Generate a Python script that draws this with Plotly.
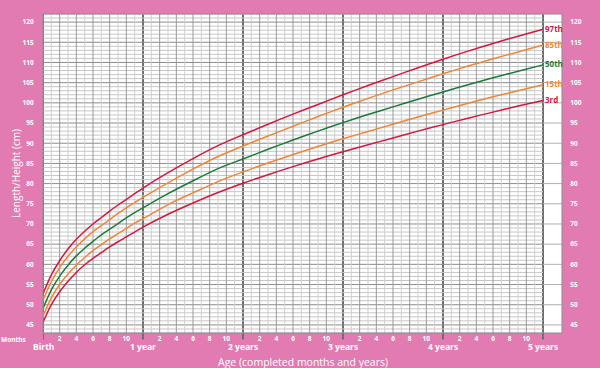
import plotly.graph_objects as go

# ---- data (WHO length/height-for-age, girls) ----
months = [0, 1, 2, 3, 4, 5, 6, 7, 8, 9, 10, 11, 12, 15, 18, 21, 24, 27, 30, 33, 36,
          39, 42, 45, 48, 51, 54, 57, 60]
p3 = [45.6, 50.0, 53.2, 55.8, 58.0, 59.9, 61.5, 62.9, 64.3, 65.6, 66.8, 68.0, 69.2,
      72.4, 75.2, 77.8, 80.1, 82.2, 84.2, 86.1, 87.9, 89.6, 91.3, 93.0, 94.6, 96.2,
      97.7, 99.2, 100.6]
p15 = [47.2, 51.7, 55.0, 57.6, 59.8, 61.7, 63.4, 64.9, 66.3, 67.6, 68.9, 70.2, 71.3,
       74.8, 77.7, 80.5, 82.9, 85.1, 87.2, 89.2, 91.1, 92.9, 94.7, 96.5, 98.2, 99.9,
       101.5, 103.0, 104.5]
p50 = [49.1, 53.7, 57.1, 59.8, 62.1, 64.0, 65.7, 67.3, 68.7, 70.1, 71.5, 72.8, 74.0,
       77.5, 80.7, 83.7, 86.1, 88.5, 90.8, 93.0, 95.1, 97.1, 99.0, 100.9, 102.7, 104.5,
       106.2, 107.8, 109.4]
p85 = [51.1, 55.7, 59.2, 62.0, 64.3, 66.3, 68.1, 69.6, 71.1, 72.6, 74.0, 75.3, 76.6,
       80.2, 83.6, 86.7, 89.3, 91.8, 94.2, 96.6, 98.9, 101.1, 103.2, 105.2, 107.2, 109.1,
       110.9, 112.6, 114.3]
p97 = [52.7, 57.4, 60.9, 63.8, 66.2, 68.2, 70.0, 71.6, 73.2, 74.7, 76.1, 77.5, 78.9,
       82.7, 86.2, 89.4, 92.1, 94.7, 97.2, 99.6, 102.0, 104.3, 106.5, 108.7, 110.8, 112.8,
       114.7, 116.5, 118.2]
series_labels = ["3rd", "15th", "50th", "85th", "97th"]
series_values = [p3, p15, p50, p85, p97]

y_ticks = list(range(45, 121, 5))
year_positions = [0, 12, 24, 36, 48, 60]
year_labels = ["Birth", "1 year", "2 years", "3 years", "4 years", "5 years"]
month_ticks = [2, 4, 6, 8, 10]

# ---- style ----
PINK = "#E17BB2"
RED = "#D4173F"
ORANGE = "#F08536"
GREEN = "#1B7A3A"
series_colors = [RED, ORANGE, GREEN, ORANGE, RED]
FONT = "Open Sans"
X_MAX = 62.28
Y_MIN, Y_MAX = 43, 122

fig = go.Figure()
for lab, vals, col in zip(series_labels, series_values, series_colors):
    fig.add_trace(go.Scatter(x=months, y=vals, mode="lines", name=lab,
                             line=dict(color=col, width=1.5, shape="spline", smoothing=0.8),
                             hoverinfo="skip", showlegend=False))
fig.add_trace(go.Scatter(x=[None], y=[None], yaxis="y2", showlegend=False))

shapes = []
# horizontal grid
for v in range(Y_MIN, Y_MAX + 1):
    major = v % 5 == 0
    shapes.append(dict(type="line", xref="x", yref="y", x0=0, x1=60, y0=v, y1=v,
                       line=dict(color="#8c8c8c" if major else "#c6c6c6", width=1),
                       layer="below"))
    if major:
        shapes.append(dict(type="line", xref="x", yref="y", x0=60, x1=X_MAX, y0=v, y1=v,
                           line=dict(color="#b0b0b0", width=1), layer="below"))
# vertical grid
for m in range(0, 61):
    if m % 12 == 0:
        continue
    shapes.append(dict(type="line", xref="x", yref="y", x0=m, x1=m, y0=Y_MIN, y1=Y_MAX,
                       line=dict(color="#9a9a9a" if m % 2 == 0 else "#d0d0d0", width=1),
                       layer="below"))
for m in year_positions:
    shapes.append(dict(type="line", xref="x", yref="paper", x0=m, x1=m, y0=-0.02, y1=1,
                       line=dict(color="#6e6e6e", width=2), layer="below"))
# frame
shapes.append(dict(type="rect", xref="paper", yref="paper", x0=0, x1=1, y0=0, y1=1,
                   line=dict(color="#8c8c8c", width=1), layer="above"))

annotations = []
for yp, yl in zip(year_positions, year_labels):
    annotations.append(dict(x=yp, y=0, xref="x", yref="paper", xanchor="center",
                            yanchor="top", yshift=-6, text=yl, showarrow=False,
                            font=dict(family=FONT, size=8.5, color="white", weight="bold")))
annotations.append(dict(x=-0.056, y=0, xref="paper", yref="paper", xanchor="center",
                        yanchor="top", yshift=0, text="Months", showarrow=False,
                        font=dict(family=FONT, size=6.5, color="white", weight="bold")))
annotations.append(dict(x=0.5, y=0, xref="paper", yref="paper", xanchor="center",
                        yanchor="top", yshift=-19.5, text="Age (completed months and years)",
                        showarrow=False,
                        font=dict(family=FONT, size=10.5, color="white")))
annotations.append(dict(x=-0.053, y=0.5, xref="paper", yref="paper", xanchor="center",
                        yanchor="middle", textangle=-90,
                        text="Length/Height (cm)", showarrow=False,
                        font=dict(family=FONT, size=10, color="white")))
for lab, vals, col in zip(series_labels, series_values, series_colors):
    annotations.append(dict(x=60, y=vals[-1], xref="x", yref="y", xanchor="left",
                            xshift=0, yshift=1, text=lab, showarrow=False,
                            font=dict(family=FONT, size=8, color=col, weight="bold")))

tickvals = []
ticktext = []
for y in range(5):
    for mt in month_ticks:
        tickvals.append(y * 12 + mt)
        ticktext.append(str(mt))

tickfont = dict(family=FONT, size=6.5, color="white", weight="bold")
fig.update_layout(
    width=600, height=368,
    margin=dict(l=43, r=38, t=14, b=35),
    paper_bgcolor=PINK, plot_bgcolor="white",
    xaxis=dict(range=[0, X_MAX], tickvals=tickvals, ticktext=ticktext, ticks="",
               showgrid=False, zeroline=False, tickfont=tickfont, fixedrange=True),
    yaxis=dict(range=[Y_MIN, Y_MAX], tickvals=y_ticks, ticks="outside", ticklen=7,
               tickcolor=PINK, showgrid=False, zeroline=False, tickfont=tickfont),
    yaxis2=dict(range=[Y_MIN, Y_MAX], tickvals=y_ticks, ticks="outside", ticklen=6,
                tickcolor=PINK, showgrid=False, zeroline=False, tickfont=tickfont,
                overlaying="y", side="right"),
    shapes=shapes, annotations=annotations,
)
fig.write_html("out.html", config={"displayModeBar": False},
               post_script="document.body.style.margin='0';document.body.style.overflow='hidden';")
